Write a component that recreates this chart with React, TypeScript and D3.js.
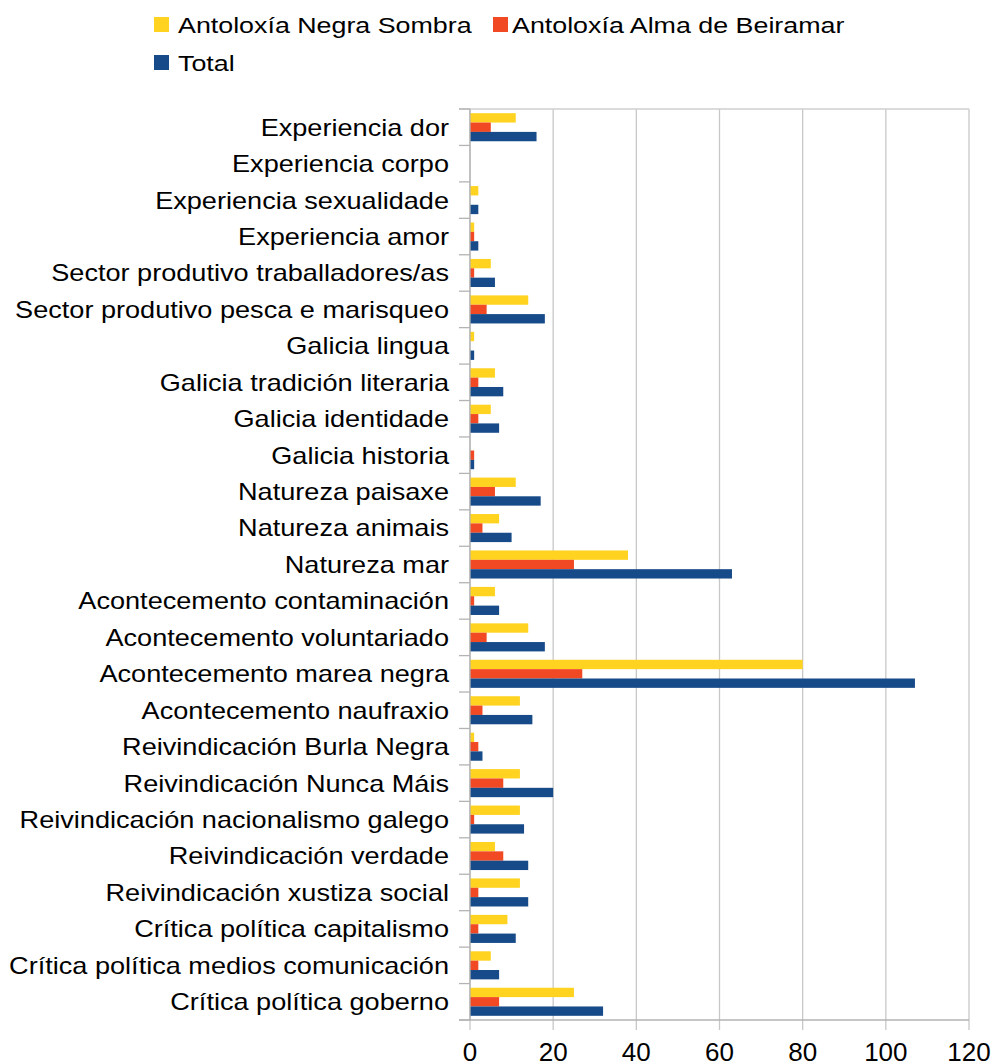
import React from "react";
import * as d3 from "d3";

const categories = [
  "Experiencia dor",
  "Experiencia corpo",
  "Experiencia sexualidade",
  "Experiencia amor",
  "Sector produtivo traballadores/as",
  "Sector produtivo pesca e marisqueo",
  "Galicia lingua",
  "Galicia tradición literaria",
  "Galicia identidade",
  "Galicia historia",
  "Natureza paisaxe",
  "Natureza animais",
  "Natureza mar",
  "Acontecemento contaminación",
  "Acontecemento voluntariado",
  "Acontecemento marea negra",
  "Acontecemento naufraxio",
  "Reivindicación Burla Negra",
  "Reivindicación Nunca Máis",
  "Reivindicación nacionalismo galego",
  "Reivindicación verdade",
  "Reivindicación xustiza social",
  "Crítica política capitalismo",
  "Crítica política medios comunicación",
  "Crítica política goberno",
];

const negraSombra = [11, 0, 2, 1, 5, 14, 1, 6, 5, 0, 11, 7, 38, 6, 14, 80, 12, 1, 12, 12, 6, 12, 9, 5, 25];
const almaBeiramar = [5, 0, 0, 1, 1, 4, 0, 2, 2, 1, 6, 3, 25, 1, 4, 27, 3, 2, 8, 1, 8, 2, 2, 2, 7];
const total = [16, 0, 2, 2, 6, 18, 1, 8, 7, 1, 17, 10, 63, 7, 18, 107, 15, 3, 20, 13, 14, 14, 11, 7, 32];

const seriesNames = ["Antoloxía Negra Sombra", "Antoloxía Alma de Beiramar", "Total"];
const seriesColors = ["#ffd320", "#f04923", "#174a88"];
const xTicks = [0, 20, 40, 60, 80, 100, 120];

const FONT = "'Liberation Sans', Arial, sans-serif";

export default function App() {
  const W = 994;
  const H = 1064;
  const left = 470;
  const right = 969;
  const top = 109;
  const bottom = 1020;

  const x = d3.scaleLinear().domain([0, 120]).range([left, right]);
  const y = d3.scaleBand<string>().domain(categories).range([top, bottom]).paddingInner(0.23).paddingOuter(0.115);
  const inner = d3.scaleBand<number>().domain([0, 1, 2]).range([0, y.bandwidth()]);
  const allSeries = [negraSombra, almaBeiramar, total];
  const step = (bottom - top) / categories.length;

  const legend = [
    { name: seriesNames[0], color: seriesColors[0], sx: 154, sy: 17, tx: 178, ty: 32.5 },
    { name: seriesNames[1], color: seriesColors[1], sx: 493, sy: 17, tx: 512, ty: 32.5 },
    { name: seriesNames[2], color: seriesColors[2], sx: 154, sy: 55, tx: 178, ty: 70.5 },
  ];

  return (
    <svg width={W} height={H} style={{ position: "absolute", left: 0, top: 0 }} fontFamily={FONT}>
      <rect width={W} height={H} fill="#fff" />
      {/* grid */}
      {xTicks.map((t) => (
        <line key={"g" + t} x1={x(t)} x2={x(t)} y1={top} y2={bottom + 10} stroke="#c8c8c8" strokeWidth={1.3} />
      ))}
      <line x1={left - 11} x2={right} y1={top} y2={top} stroke="#cfcfcf" strokeWidth={1.3} />
      {/* bars */}
      {categories.map((c, i) => (
        <g key={c}>
          {allSeries.map((s, k) =>
            s[i] > 0 ? (
              <rect
                key={k}
                x={x(0)}
                y={(y(c) as number) + (inner(k) as number)}
                width={x(s[i]) - x(0)}
                height={inner.bandwidth()}
                fill={seriesColors[k]}
              />
            ) : null
          )}
        </g>
      ))}
      {/* axes */}
      <line x1={left} x2={left} y1={top} y2={bottom} stroke="#b3b3b3" strokeWidth={1.3} />
      <line x1={left - 11} x2={right} y1={bottom} y2={bottom} stroke="#b3b3b3" strokeWidth={1.3} />
      {d3.range(categories.length + 1).map((i) => (
        <line key={"t" + i} x1={left - 11} x2={left} y1={top + i * step} y2={top + i * step} stroke="#b3b3b3" strokeWidth={1.3} />
      ))}
      {categories.map((c) => (
        <text
          key={"l" + c}
          transform={`translate(449,${(y(c) as number) + y.bandwidth() / 2}) scale(1.13,1)`}
          dy="0.35em"
          textAnchor="end"
          fontSize={24}
          fill="#000"
        >
          {c}
        </text>
      ))}
      {xTicks.map((t) => (
        <text key={"xl" + t} x={x(t)} y={1061} textAnchor="middle" fontSize={26} fill="#000">
          {t}
        </text>
      ))}
      {/* legend */}
      {legend.map((l) => (
        <g key={l.name}>
          <rect x={l.sx} y={l.sy} width={15} height={15} fill={l.color} />
          <text transform={`translate(${l.tx},${l.ty}) scale(1.22,1)`} fontSize={22} fill="#000">
            {l.name}
          </text>
        </g>
      ))}
    </svg>
  );
}
